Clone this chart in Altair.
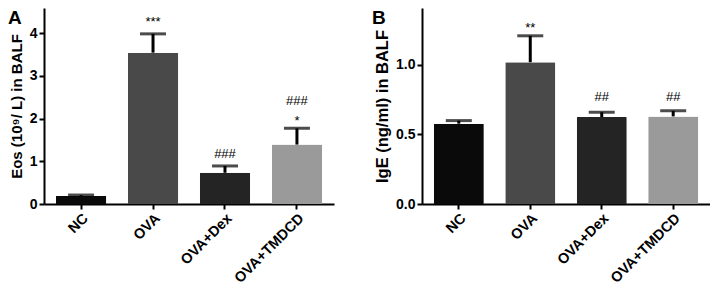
import altair as alt
import pandas as pd

groups = ["NC", "OVA", "OVA+Dex", "OVA+TMDCD"]
bar_colors = ["#0a0a0a", "#494949", "#242424", "#9a9a9a"]

eos_mean = [0.19, 3.54, 0.73, 1.39]
eos_upper = [0.21, 3.98, 0.89, 1.77]
eos_ann_group = ["OVA", "OVA+Dex", "OVA+TMDCD", "OVA+TMDCD"]
eos_ann_text = ["***", "###", "###", "*"]
eos_ann_y = [4.16, 1.08, 2.32, 1.85]
eos_ticks = [0, 1, 2, 3, 4]

ige_mean = [0.578, 1.02, 0.626, 0.63]
ige_upper = [0.60, 1.21, 0.66, 0.67]
ige_ann_group = ["OVA", "OVA+Dex", "OVA+TMDCD"]
ige_ann_text = ["**", "##", "##"]
ige_ann_y = [1.24, 0.74, 0.74]
ige_ticks = [0.0, 0.5, 1.0]

FONT = "Liberation Sans"


def panel(mean, upper, ann_group, ann_text, ann_y, ymax, ticks, fmt, title, title_size,
          letter, width, letter_x):
    df = pd.DataFrame({"group": groups, "mean": mean, "upper": upper})
    ann = pd.DataFrame({"group": ann_group, "text": ann_text, "y": ann_y})
    x = alt.X(
        "group:N",
        sort=groups,
        scale=alt.Scale(paddingInner=0.3, paddingOuter=0.165),
        axis=alt.Axis(title=None, labelAngle=-45, labelPadding=2),
    )
    yscale = alt.Scale(domain=[0, ymax], nice=False, zero=True)
    base = alt.Chart(df)
    bars = base.mark_bar(cornerRadius=1).encode(
        x=x,
        y=alt.Y("mean:Q", scale=yscale,
                axis=alt.Axis(values=ticks, format=fmt, title=title, titlePadding=5,
                              titleFontSize=title_size)),
        color=alt.Color("group:N", scale=alt.Scale(domain=groups, range=bar_colors), legend=None),
    )
    err = base.mark_rule(strokeWidth=3, color="black").encode(
        x=x, y=alt.Y("mean:Q", scale=yscale), y2="upper:Q"
    )
    cap = base.mark_tick(size=26, thickness=3, color="black").encode(
        x=x, y=alt.Y("upper:Q", scale=yscale)
    )
    txt = alt.Chart(ann).mark_text(baseline="alphabetic", fontSize=13, font=FONT, color="black").encode(
        x=x, y=alt.Y("y:Q", scale=yscale), text="text:N"
    )
    lab = alt.Chart(pd.DataFrame({"t": [letter]})).mark_text(
        align="left", baseline="top", fontSize=19, fontWeight="bold", font=FONT, color="black"
    ).encode(text="t:N", x=alt.value(letter_x), y=alt.value(1))
    return alt.layer(bars, err, cap, txt, lab).properties(width=width, height=196)


a = panel(eos_mean, eos_upper, eos_ann_group, eos_ann_text, eos_ann_y, 4.585, eos_ticks, "d",
          "Eos (10⁹/ L) in BALF", 15, "A", 290, -36)
b = panel(ige_mean, ige_upper, ige_ann_group, ige_ann_text, ige_ann_y, 1.41, ige_ticks, ".1f",
          "IgE (ng/ml) in BALF", 16.5, "B", 288, -50)

chart = alt.hconcat(a, b, spacing=38).properties(
    padding={"left": 0, "top": 0, "right": 0, "bottom": 0}
).configure_view(stroke=None).configure_axis(
    grid=False,
    domainColor="black",
    domainWidth=2,
    tickColor="black",
    tickWidth=2,
    tickSize=5,
    labelFont=FONT,
    labelFontWeight="bold",
    labelFontSize=14,
    labelColor="black",
    titleFont=FONT,
    titleFontWeight="bold",
    titleColor="black",
).configure_axisX(labelFontSize=14.5)

chart.save("out.html", embed_options={"renderer": "svg", "actions": False})
